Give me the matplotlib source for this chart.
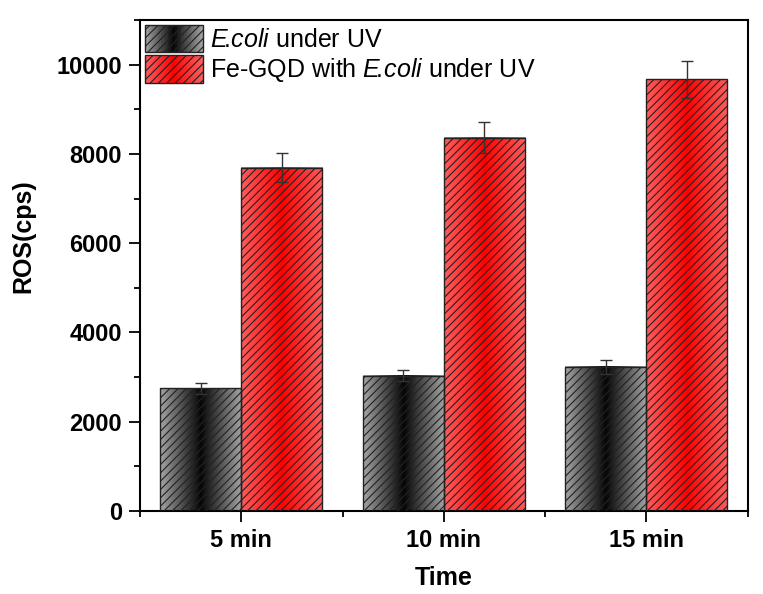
import numpy as np
import matplotlib
matplotlib.use("Agg")
import matplotlib.pyplot as plt
from matplotlib.patches import Rectangle
from matplotlib.legend_handler import HandlerBase
from matplotlib.ticker import MultipleLocator, FixedLocator

# data
times = ["5 min", "10 min", "15 min"]
ecoli = [2750, 3030, 3230]
ecoli_err = [120, 125, 150]
fegqd = [7690, 8360, 9670]
fegqd_err = [330, 350, 420]
labels = [r"$\mathit{E}\!\mathit{.}\!\mathit{coli}$ under UV",
          r"Fe-GQD with $\mathit{E}\!\mathit{.}\!\mathit{coli}$ under UV"]

plt.rcParams["font.family"] = ["Liberation Sans", "DejaVu Sans"]
plt.rcParams["mathtext.fontset"] = "custom"
plt.rcParams["mathtext.rm"] = "Liberation Sans"
plt.rcParams["mathtext.it"] = "Liberation Sans:italic"
plt.rcParams["hatch.linewidth"] = 0.8

GRAY = (np.array([0.64, 0.64, 0.64]), np.array([0.02, 0.02, 0.02]))
RED = (np.array([1.0, 0.36, 0.36]), np.array([1.0, 0.0, 0.0]))
HATCH = "////"


def gradient(edge, center, n=64):
    # horizontal gradient: light at both edges, dark/strong in the middle
    w = np.abs(np.linspace(-1, 1, n))[:, None]
    return center * (1 - w) + edge * w


class GradientHandler(HandlerBase):
    def __init__(self, colors):
        super().__init__()
        self.colors = colors

    def create_artists(self, legend, orig_handle, xdescent, ydescent,
                       width, height, fontsize, trans):
        cols = gradient(*self.colors, n=40)
        arts = []
        x0, y0 = -xdescent, -ydescent
        for i, c in enumerate(cols):
            arts.append(Rectangle((x0 + width * i / len(cols), y0), width / len(cols) * 1.1,
                                  height, facecolor=c, edgecolor="none", transform=trans))
        arts.append(Rectangle((x0, y0), width, height, facecolor="none", edgecolor="#222222",
                              hatch=HATCH, lw=1.0, transform=trans))
        return arts


fig = plt.figure(figsize=(7.63, 5.94), dpi=100)
ax = fig.add_axes([0.1835, 0.1397, 0.7965, 0.8266])

x = np.arange(1, len(times) + 1)
w = 0.4
b1 = ax.bar(x - w / 2, ecoli, w, facecolor="none", edgecolor="#222222", hatch=HATCH, lw=1.0, zorder=3)
b2 = ax.bar(x + w / 2, fegqd, w, facecolor="none", edgecolor="#222222", hatch=HATCH, lw=1.0, zorder=3)

for bars, cols in ((b1, GRAY), (b2, RED)):
    img = gradient(*cols)[None, :, :]
    for bar in bars:
        bx, by = bar.get_x(), bar.get_y()
        ax.imshow(img, extent=[bx, bx + bar.get_width(), by, by + bar.get_height()],
                  aspect="auto", interpolation="bilinear", zorder=2)

ax.errorbar(x - w / 2, ecoli, yerr=ecoli_err, fmt="none", ecolor="#333333",
            elinewidth=1.0, capsize=4, capthick=1.0, zorder=5)
ax.errorbar(x + w / 2, fegqd, yerr=fegqd_err, fmt="none", ecolor="#333333",
            elinewidth=1.0, capsize=4, capthick=1.0, zorder=5)

ax.set_xlim(0.5, 3.5)
ax.set_ylim(0, 11000)
ax.set_xticks(x)
ax.set_xticklabels(times)
ax.xaxis.set_minor_locator(FixedLocator([0.5, 1.5, 2.5, 3.5]))
ax.yaxis.set_major_locator(MultipleLocator(2000))
ax.yaxis.set_minor_locator(MultipleLocator(1000))

for s in ax.spines.values():
    s.set_linewidth(1.5)
ax.tick_params(which="major", direction="out", length=8, width=1.3, labelsize=17, pad=5)
ax.tick_params(which="minor", direction="out", length=4.5, width=1.3)
for t in ax.get_xticklabels() + ax.get_yticklabels():
    t.set_fontweight("bold")

ax.set_xlabel("Time", fontsize=18, fontweight="bold", labelpad=10)
ax.set_ylabel("ROS(cps)", fontsize=18, fontweight="bold")
ax.yaxis.set_label_coords(-0.172, 0.56)

ax.legend([b1, b2], labels, loc="upper left", bbox_to_anchor=(0, 1), frameon=False,
          fontsize=18, borderaxespad=0.1, borderpad=0.1, handlelength=2.3,
          handleheight=1.3, labelspacing=0.12, handletextpad=0.3,
          handler_map={b1: GradientHandler(GRAY), b2: GradientHandler(RED)})

fig.savefig("out.png", dpi=100)
